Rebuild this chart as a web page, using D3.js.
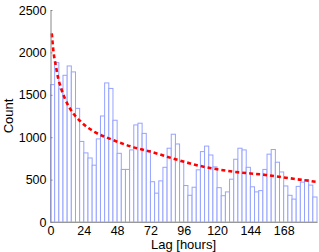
<!DOCTYPE html>
<html>
<head>
<meta charset="utf-8">
<script src="https://cdn.jsdelivr.net/npm/d3@7"></script>
<style>
  body { margin: 0; background: #fff; }
  svg { font-family: 'Liberation Sans', Arial, sans-serif; }
  .axis text { fill: #000; font-size: 12.5px; }
</style>
</head>
<body>
<svg width="319" height="252"></svg>
<script>
// 3-hour bins, 0..192 h
const binHours = 3;
const counts = [
  1620, 1880, 1570, 1730, 1840, 1770, 1340, 950,
  815, 755, 670, 980, 1250, 1640, 1575, 1200,
  810, 620, 620, 850, 1145, 1165, 1045, 840,
  475, 340, 485, 645, 870, 1035, 920, 710,
  430, 315, 410, 615, 830, 895, 790, 650,
  405, 310, 355, 505, 740, 870, 850, 645,
  415, 355, 370, 620, 800, 855, 705, 590,
  425, 315, 270, 420, 470, 500, 435, 295
];
// fitted decay curve
const fitHours = [0.9, 2, 4, 5.6, 7, 10, 14, 22, 32, 43, 60, 72, 90, 108, 131, 155, 175, 191];
const fitCounts = [2225, 2030, 1830, 1690, 1610, 1470, 1340, 1180, 1060, 980, 880, 830, 740, 660, 595, 555, 510, 475];
const xTicks = [0, 24, 48, 72, 96, 120, 144, 168];
const yTicks = [0, 500, 1000, 1500, 2000, 2500];

const svg = d3.select('svg');
const x = d3.scaleLinear().domain([0, 192]).range([50.5, 317]);
const y = d3.scaleLinear().domain([0, 2500]).range([222, 10]);

svg.append('g')
  .selectAll('rect')
  .data(counts)
  .enter()
  .append('rect')
  .attr('x', (d, i) => x(i * binHours))
  .attr('width', x(binHours) - x(0))
  .attr('y', d => y(d))
  .attr('height', d => y(0) - y(d))
  .attr('fill', '#fff')
  .attr('stroke', '#95a3ff')
  .attr('stroke-width', 1);

const line = d3.line()
  .x(d => x(d[0]))
  .y(d => y(d[1]))
  .curve(d3.curveMonotoneX);

svg.append('path')
  .datum(fitHours.map((h, i) => [h, fitCounts[i]]))
  .attr('d', line)
  .attr('fill', 'none')
  .attr('stroke', '#ff0000')
  .attr('stroke-width', 2.6)
  .attr('stroke-dasharray', '4,3');

const gx = svg.append('g')
  .attr('class', 'axis')
  .attr('transform', 'translate(0,222)')
  .call(d3.axisBottom(x).tickValues(xTicks).tickFormat(d3.format('d'))
    .tickSize(0).tickPadding(4));
gx.select('.domain').attr('stroke', '#999');

const gy = svg.append('g')
  .attr('class', 'axis')
  .attr('transform', 'translate(50.5,0)')
  .call(d3.axisLeft(y).tickValues(yTicks).tickFormat(d3.format('d'))
    .tickSizeInner(-2).tickSizeOuter(0).tickPadding(4));
gy.select('.domain').attr('stroke', '#888');
gy.selectAll('.tick line').attr('stroke', '#888');

svg.append('text')
  .attr('transform', 'translate(13,116) rotate(-90)')
  .attr('text-anchor', 'middle')
  .attr('font-size', 13)
  .text('Count');

svg.append('text')
  .attr('x', 183.5)
  .attr('y', 249)
  .attr('text-anchor', 'middle')
  .attr('font-size', 13)
  .text('Lag [hours]');
</script>
</body>
</html>
